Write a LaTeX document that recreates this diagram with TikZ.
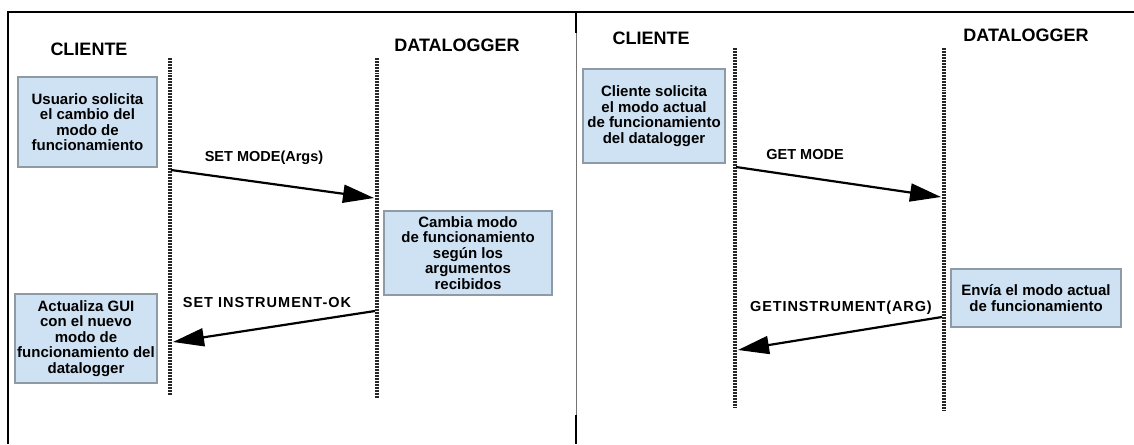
\documentclass[tikz,border=0pt]{standalone}
\usepackage{fontspec}
\setmainfont{Liberation Sans}
\usetikzlibrary{arrows.meta}
\definecolor{boxfill}{HTML}{CFE2F3}
\definecolor{boxdraw}{HTML}{8E9AA6}
\begin{document}
\begin{tikzpicture}[x=1pt,y=-1pt,
  box/.style={draw=boxdraw, line width=1.3pt, fill=boxfill, inner sep=0pt, align=center,
              font=\fontsize{15}{15.5}\selectfont\bfseries},
  title/.style={font=\fontsize{18}{20}\selectfont\bfseries, inner sep=0pt},
  msg/.style={font=\fontsize{14.5}{16}\selectfont\bfseries, inner sep=0pt},
  lifeline/.style={line width=3.8pt, draw=black!85, dash pattern=on 0.9pt off 0.6pt},
  msgarrow/.style={line width=2.2pt, -{Triangle[length=31pt,width=18pt]}},
  frame/.style={line width=2pt}]
\useasboundingbox[fill=white] (0,0) rectangle (1134,444);

% frame
\draw[frame] (8,444) -- (8,12) -- (1134,12);
\draw[line width=0.6pt, black!55] (576,12) -- (576,444);
\draw[frame] (576,12) -- (576,33);
\draw[frame] (576,415) -- (576,444);

% ---------------- left panel ----------------
\node[title] (cli1) at (89,49) {CLIENTE};
\node[title] (dat1) at (457,45) {DATALOGGER};

\coordinate (l1t) at (170,58);  \coordinate (l1b) at (170,395);
\coordinate (r1t) at (377,58);  \coordinate (r1b) at (377,398);
\draw[lifeline] (l1t) -- (l1b);
\draw[lifeline] (r1t) -- (r1b);

\node[box, minimum width=139pt, minimum height=90pt] (b1) at (87.5,122)
  {Usuario solicita\\el cambio del\\modo de\\funcionamiento};
\node[box, minimum width=168pt, minimum height=84pt] (b2) at (468,253)
  {Cambia modo\\de funcionamiento\\según los\\argumentos\\recibidos};
\node[box, minimum width=142pt, minimum height=89pt] (b3) at (86,338.5)
  {Actualiza GUI\\con el nuevo\\modo de\\funcionamiento del\\datalogger};

\coordinate (a1s) at (171,170);  \coordinate (a1e) at (374,198);
\draw[msgarrow] (a1s) -- (a1e);
\node[msg] (m1) at (264,158) {SET MODE(Args)};

\coordinate (a2s) at (375,311);  \coordinate (a2e) at (173,342);
\draw[msgarrow] (a2s) -- (a2e);
\node[msg] (m2) at (267,303) {\addfontfeature{LetterSpace=7}SET INSTRUMENT-OK};

% ---------------- right panel ----------------
\node[title] (cli2) at (651,38) {CLIENTE};
\node[title] (dat2) at (1026,35) {DATALOGGER};

\coordinate (l2t) at (735,48);  \coordinate (l2b) at (735,407);
\coordinate (r2t) at (944,48);  \coordinate (r2b) at (944,410);
\draw[lifeline] (l2t) -- (l2b);
\draw[lifeline] (r2t) -- (r2b);

\node[box, minimum width=142pt, minimum height=94pt] (b4) at (654,116)
  {Cliente solicita\\el modo actual\\de funcionamiento\\del datalogger};
\node[box, minimum width=170pt, minimum height=58pt] (b5) at (1036,298)
  {Envía el modo actual\\de funcionamiento};

\coordinate (a3s) at (736,167);  \coordinate (a3e) at (941,197);
\draw[msgarrow] (a3s) -- (a3e);
\node[msg] (m3) at (805,155) {GET MODE};

\coordinate (a4s) at (942,317);  \coordinate (a4e) at (738,350);
\draw[msgarrow] (a4s) -- (a4e);
\node[msg] (m4) at (841,308) {\addfontfeature{LetterSpace=6}GETINSTRUMENT(ARG)};
\end{tikzpicture}
\end{document}
